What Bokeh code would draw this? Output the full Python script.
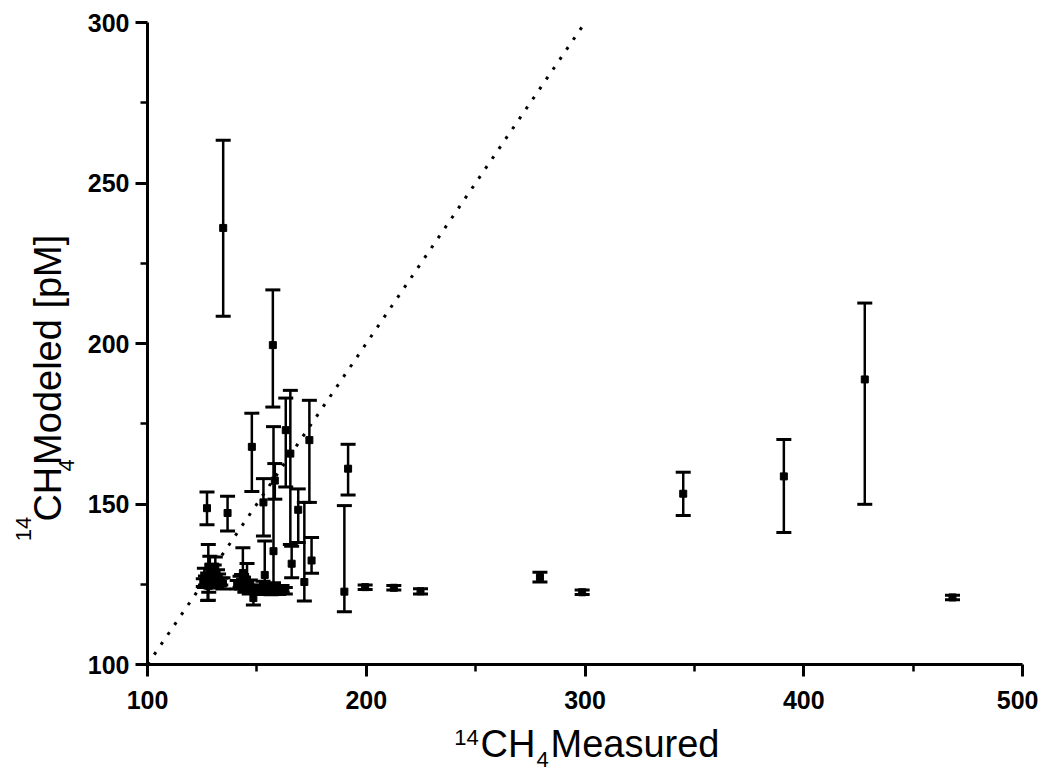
import math
from bokeh.plotting import figure
from bokeh.models import ColumnDataSource, Whisker, TeeHead, FixedTicker, Range1d
from bokeh.layouts import row, column
from bokeh.core.properties import value
from bokeh.embed import file_html
from bokeh.resources import INLINE

# ---- data ----
x_meas = [134.6, 157.3, 147.7, 127.2, 127.8, 136.6, 153.0, 158.2, 157.6, 163.2,
          165.3, 174.0, 168.9, 165.9, 171.7, 175.0, 191.7, 190.0, 143.6, 153.6,
          199.5, 212.6, 224.8, 279.4, 298.7, 344.9, 390.9, 427.9, 468.0,
          125.5, 126.5, 127.5, 128.5, 129.5, 130.5, 131.5, 132.5, 133.5, 129.0, 131.0,
          126.0, 128.0, 130.0, 132.0, 134.5,
          141.0, 142.3, 144.5, 145.5, 146.5, 148.4, 149.5, 150.5, 151.5, 154.5,
          155.5, 156.5, 158.5, 160.0, 161.5, 163.0, 147.0, 152.8, 143.0, 145.0]
y_model = [236.0, 199.5, 167.8, 148.7, 130.5, 147.2, 150.5, 157.3, 135.3, 173.0,
           165.7, 169.9, 148.2, 131.4, 125.7, 132.4, 161.0, 122.7, 128.5, 127.9,
           124.1, 123.9, 122.8, 127.2, 122.5, 153.2, 158.6, 188.8, 120.9,
           125.5, 126.2, 125.0, 127.5, 126.0, 128.5, 125.3, 126.5, 125.8, 124.8, 130.5,
           127.0, 124.5, 126.8, 127.2, 125.2,
           124.8, 125.8, 123.8, 126.5, 123.2, 120.7, 123.5, 122.8, 123.6, 122.9,
           123.4, 122.6, 123.2, 122.8, 123.5, 123.0, 125.0, 124.5, 125.5, 124.2]
y_low = [208.5, 180.2, 153.9, 143.5, 120.0, 141.6, 140.0, 151.5, 125.5, 155.3,
         137.4, 150.5, 138.0, 127.0, 119.8, 128.4, 152.8, 116.4, 124.0, 124.5,
         123.4, 123.2, 122.0, 125.7, 121.8, 146.4, 141.1, 149.9, 120.2,
         124.3, 124.8, 119.9, 125.5, 124.5, 126.0, 124.0, 125.0, 124.8, 123.8, 127.5,
         124.0, 122.5, 124.5, 125.0, 123.5,
         123.5, 124.0, 122.5, 123.0, 122.0, 118.5, 122.3, 121.8, 122.5, 121.9,
         122.2, 121.7, 122.0, 121.8, 122.4, 122.0, 123.8, 123.2, 123.5, 122.8]
y_high = [263.3, 216.7, 178.3, 153.7, 137.4, 152.4, 157.9, 162.6, 174.1, 183.0,
          185.4, 182.3, 154.7, 136.8, 150.5, 139.6, 168.6, 149.5, 136.4, 138.5,
          124.8, 124.6, 123.6, 128.7, 123.2, 159.9, 170.1, 212.6, 121.6,
          126.7, 127.6, 128.5, 133.7, 128.0, 131.0, 126.8, 128.2, 126.9, 125.8, 133.5,
          130.0, 126.5, 129.0, 129.5, 127.0,
          126.2, 127.5, 125.0, 131.5, 124.5, 123.0, 124.8, 123.9, 124.7, 124.0,
          124.6, 123.6, 124.3, 123.9, 124.6, 124.0, 126.3, 125.9, 128.0, 126.0]

one_to_one = [100, 300]
x_ticks = [100, 200, 300, 400, 500]
x_minor = [150, 250, 350, 450]
y_ticks = [100, 150, 200, 250, 300]
y_minor = [125, 175, 225, 275]

x_title = ["14", "CH", "4", "Measured"]
y_title = ["14", "CH", "4", "Modeled [pM]"]

FONT = "Liberation Sans"

# ---- main plot ----
src = ColumnDataSource(dict(x=x_meas, y=y_model, lo=y_low, hi=y_high))

YL_W = 82
LEFT = 147 - YL_W
MAIN_W = LEFT + 875 + 16
MAIN_H = 22 + 642 + 52
p = figure(frame_width=875, frame_height=642,
           x_range=Range1d(100, 500), y_range=Range1d(100, 300),
           output_backend="svg", toolbar_location=None,
           min_border_left=LEFT, min_border_top=22, min_border_right=16, min_border_bottom=52,
           background_fill_color="white", border_fill_color="white")
p.outline_line_color = None
p.grid.visible = False

for ax in (p.xaxis[0], p.yaxis[0]):
    ax.axis_line_width = 3
    ax.major_tick_line_width = 3
    ax.minor_tick_line_width = 2.5
    ax.major_tick_in = 0
    ax.minor_tick_in = 0
    ax.major_tick_out = 12
    ax.minor_tick_out = 7
    ax.major_label_text_font = FONT
    ax.major_label_text_font_style = "bold"
    ax.major_label_text_font_size = "25px"
    ax.major_label_text_color = "black"

p.xaxis.ticker = FixedTicker(ticks=x_ticks, minor_ticks=x_minor)
p.yaxis.ticker = FixedTicker(ticks=y_ticks, minor_ticks=y_minor)
p.xaxis.major_label_standoff = 14
p.yaxis.major_label_standoff = 6

# 1:1 reference line
p.line(one_to_one, one_to_one, line_dash="3 9", line_width=3, color="black")

# error bars
w = Whisker(source=src, base="x", upper="hi", lower="lo", dimension="height",
            line_color="black", line_width=2.5,
            upper_head=TeeHead(size=15, line_width=3, line_color="black"),
            lower_head=TeeHead(size=15, line_width=3, line_color="black"))
p.add_layout(w)

p.scatter("x", "y", source=src, marker="square", size=7, color="black")

# ---- y title strip (left); pieces are centre-anchored ----
yl = figure(width=YL_W, height=MAIN_H, x_range=Range1d(0, YL_W), y_range=Range1d(0, MAIN_H),
            output_backend="svg", toolbar_location=None, min_border=0,
            x_axis_location=None, y_axis_location=None,
            background_fill_color="white", border_fill_color="white")
yl.outline_line_color = None
yl.grid.visible = False
ysrc = ColumnDataSource(dict(
    x=[23, 47, 66, 47],
    y=[MAIN_H - 565, MAIN_H - 526, MAIN_H - 494, MAIN_H - 365],
    text=y_title,
    size=["22px", "38px", "22px", "38px"]))
yl.text(x="x", y="y", text="text", source=ysrc, angle=math.pi / 2,
        text_font=value(FONT), text_font_size="size", text_color="black",
        text_align="center", text_baseline="middle")

# ---- x title strip (bottom); pieces are centre-anchored ----
XL_W = YL_W + MAIN_W
XL_H = 56
xl = figure(width=XL_W, height=XL_H, x_range=Range1d(0, XL_W), y_range=Range1d(0, XL_H),
            output_backend="svg", toolbar_location=None, min_border=0,
            x_axis_location=None, y_axis_location=None,
            background_fill_color="white", border_fill_color="white")
xl.outline_line_color = None
xl.grid.visible = False
top = MAIN_H + XL_H
xsrc = ColumnDataSource(dict(
    x=[466, 507.5, 542, 634.5],
    y=[top - 737, top - 743, top - 759, top - 743],
    text=x_title,
    size=["22px", "38px", "22px", "38px"]))
xl.text(x="x", y="y", text="text", source=xsrc,
        text_font=value(FONT), text_font_size="size", text_color="black",
        text_align="center", text_baseline="middle")

layout = column(row(yl, p, spacing=0), xl, spacing=0)
open("out.html", "w").write(file_html(layout, INLINE))
